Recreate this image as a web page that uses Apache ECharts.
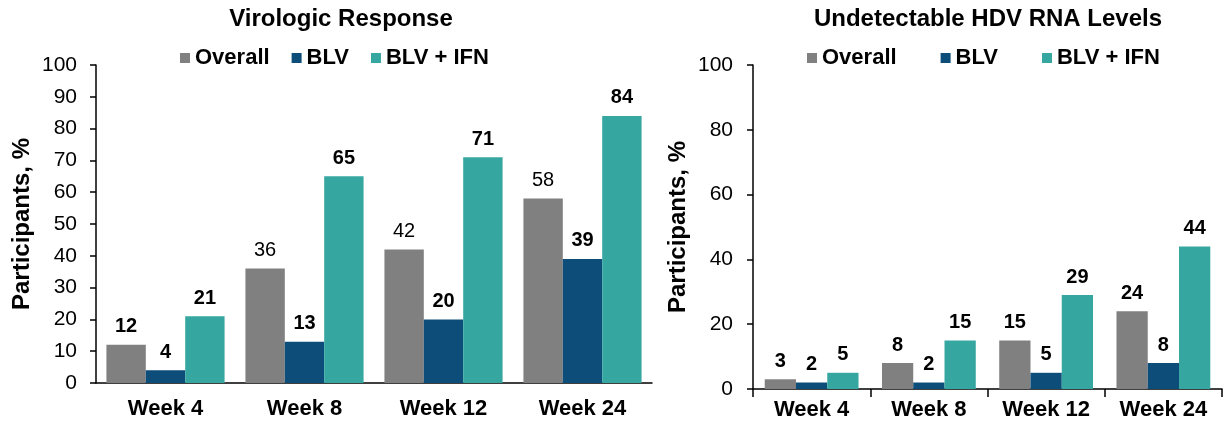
<!DOCTYPE html>
<html>
<head>
<meta charset="utf-8">
<script src="https://cdn.jsdelivr.net/npm/echarts@6/dist/echarts.min.js"></script>
<style>
  html, body { margin: 0; padding: 0; background: #ffffff; }
  #chart { width: 1225px; height: 421px; }
</style>
</head>
<body>
<div id="chart"></div>
<script>
// Study visits and treatment arms
const categories = ['Week 4', 'Week 8', 'Week 12', 'Week 24'];
const seriesNames = ['Overall', 'BLV', 'BLV + IFN'];

// Virologic response, % of participants
const virologicOverall = [12, 36, 42, 58];
const virologicBLV = [4, 13, 20, 39];
const virologicBLVIFN = [21, 65, 71, 84];

// Undetectable HDV RNA, % of participants
const undetectableOverall = [3, 8, 15, 24];
const undetectableBLV = [2, 2, 5, 8];
const undetectableBLVIFN = [5, 15, 29, 44];

// Value-axis ranges
const virologicAxis = { min: 0, max: 100, interval: 10 };
const undetectableAxis = { min: 0, max: 100, interval: 20 };

const FONT = '"Liberation Sans", Arial, sans-serif';
const COLORS = ['#808080', '#0c4d79', '#36a7a0'];

const labelBase = {
  show: true,
  position: 'top',
  distance: 8,
  fontFamily: FONT,
  fontSize: 20,
  fontWeight: 'bold',
  color: '#000'
};

// Overall labels on the first panel are bold only for Week 4
function overallVirologicData(values) {
  return values.map((v, i) => i === 0 ? v : { value: v, label: { fontWeight: 'normal' } });
}

function barSeries(name, data, axisIndex, colorIdx) {
  return {
    name: name,
    type: 'bar',
    xAxisIndex: axisIndex,
    yAxisIndex: axisIndex,
    data: data,
    barGap: '0%',
    barCategoryGap: axisIndex === 0 ? '15%' : '20%',
    itemStyle: { color: COLORS[colorIdx] },
    label: labelBase,
    emphasis: { disabled: true }
  };
}

function yAxis(gridIndex, range, nameGap, labelMargin) {
  return {
    type: 'value',
    gridIndex: gridIndex,
    min: range.min,
    max: range.max,
    interval: range.interval,
    name: 'Participants, %',
    nameLocation: 'middle',
    nameGap: nameGap,
    nameTextStyle: { fontFamily: FONT, fontSize: 24, fontWeight: 'bold', color: '#000' },
    axisLine: { show: true, lineStyle: { color: '#000', width: 1.5 } },
    axisTick: { show: true, length: 6, lineStyle: { color: '#000', width: 1.5 } },
    axisLabel: { fontFamily: FONT, fontSize: 21, color: '#000', margin: labelMargin },
    splitLine: { show: false }
  };
}

function xAxis(gridIndex, showTicks, margin) {
  return {
    type: 'category',
    gridIndex: gridIndex,
    data: categories,
    axisLine: { show: true, lineStyle: { color: '#000', width: 1.5 } },
    axisTick: { show: showTicks, length: 8, lineStyle: { color: '#000', width: 1.5 } },
    axisLabel: { fontFamily: FONT, fontSize: 22, fontWeight: 'bold', color: '#000', margin: margin }
  };
}

function legend(left, gap) {
  return {
    left: left,
    top: 47,
    padding: 0,
    icon: 'rect',
    itemWidth: 10,
    itemHeight: 10,
    itemGap: gap,
    selectedMode: false,
    data: seriesNames,
    textStyle: { fontFamily: FONT, fontSize: 22, fontWeight: 'bold', color: '#000' }
  };
}

const chart = echarts.init(document.getElementById('chart'), null, { renderer: 'canvas' });

chart.setOption({
  animation: false,
  backgroundColor: '#ffffff',
  color: COLORS,
  title: [
    { text: 'Virologic Response', left: 341, top: 7, padding: 0, textAlign: 'center',
      textStyle: { fontFamily: FONT, fontSize: 24, fontWeight: 'bold', color: '#000' } },
    { text: 'Undetectable HDV RNA Levels', left: 988, top: 7, padding: 0, textAlign: 'center',
      textStyle: { fontFamily: FONT, fontSize: 24, fontWeight: 'bold', color: '#000' } }
  ],
  legend: [legend(180, 22), legend(807, 44)],
  grid: [
    { left: 96, top: 65, width: 556, height: 318 },
    { left: 753, top: 65, width: 469, height: 326 }
  ],
  xAxis: [xAxis(0, false, 15), xAxis(1, true, 10)],
  yAxis: [yAxis(0, virologicAxis, 62, 19), yAxis(1, undetectableAxis, 63, 20)],
  series: [
    barSeries(seriesNames[0], overallVirologicData(virologicOverall), 0, 0),
    barSeries(seriesNames[1], virologicBLV, 0, 1),
    barSeries(seriesNames[2], virologicBLVIFN, 0, 2),
    barSeries(seriesNames[0], undetectableOverall, 1, 0),
    barSeries(seriesNames[1], undetectableBLV, 1, 1),
    barSeries(seriesNames[2], undetectableBLVIFN, 1, 2)
  ]
});
</script>
</body>
</html>
